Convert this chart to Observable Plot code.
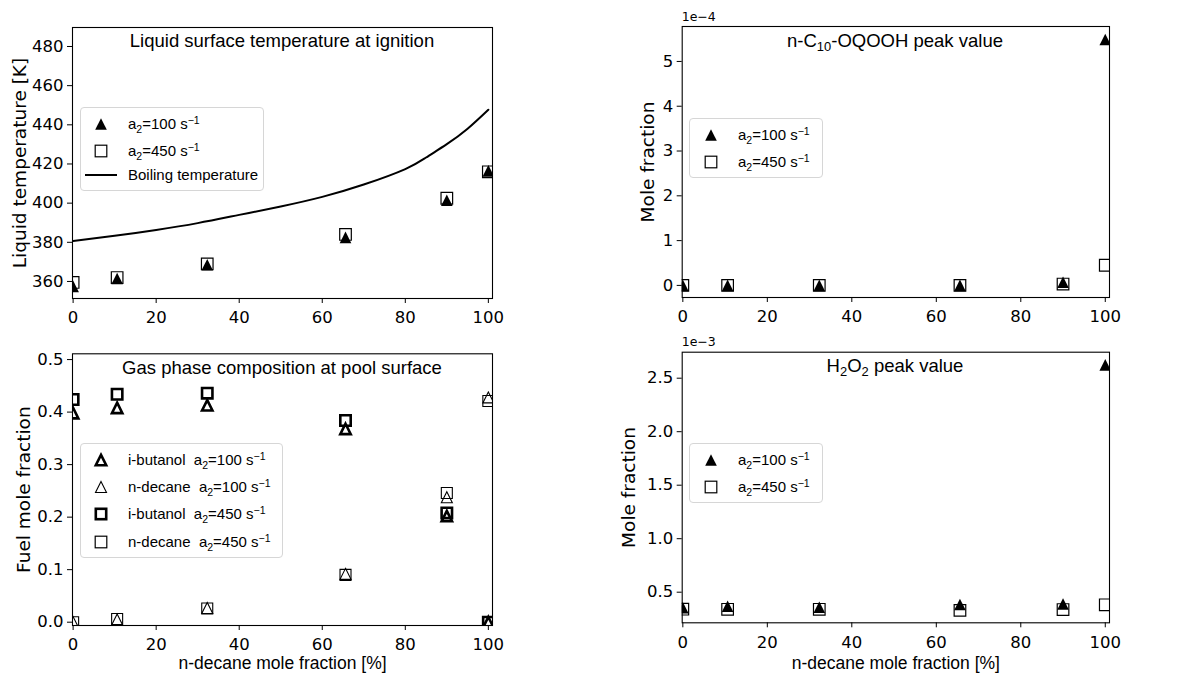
<!DOCTYPE html>
<html><head><meta charset="utf-8">
<script src="https://cdn.jsdelivr.net/npm/d3@7"></script>
<script src="https://cdn.jsdelivr.net/npm/@observablehq/plot@0.6"></script>
<style>
body{margin:0;background:#fff;}
#fig{position:relative;width:1186px;height:676px;overflow:hidden;background:#fff;}
.panel{position:absolute;}
.ttl{position:absolute;font-family:"Liberation Sans",Arial,sans-serif;font-size:18.5px;line-height:1.15;color:#000;transform:translate(-50%,-50%);white-space:nowrap;}
.off{position:absolute;font-family:"DejaVu Sans",sans-serif;font-size:12.5px;line-height:1;color:#000;}
.leg{position:absolute;border:1px solid #d6d6d6;border-radius:4px;background:rgba(255,255,255,0.8);box-sizing:border-box;}
.lrow{position:absolute;font-family:"Liberation Sans",Arial,sans-serif;font-size:15px;white-space:pre;transform:translateY(-50%);line-height:1.15;color:#000;}
.lsym{position:absolute;overflow:visible;}
sub,sup{font-size:70%;line-height:0;}
sub{vertical-align:-0.3em;}
sup{vertical-align:0.55em;}
</style></head>
<body>
<div id="fig"></div>
<script>
// ---------- data ----------
const xMix = [0, 10.6, 32.3, 65.6, 90, 100];            // n-decane mole fraction [%]
const xTicks = [0, 20, 40, 60, 80, 100];

// Liquid surface temperature at ignition [K]
const tLiq100 = [357.5, 361.5, 368.5, 382.5, 401.5, 416.5];
const tLiq450 = [359.5, 362, 369, 384, 402.5, 416];
const xBoil = [0, 10, 20, 30, 40, 50, 60, 70, 80, 85, 90, 95, 100];
const tBoil = [380.7, 383.3, 386.3, 389.8, 394, 398.3, 403.2, 409.5, 417.4, 423.3, 430.1, 438, 447.7];
const yTicksT = [360, 380, 400, 420, 440, 460, 480];

// Gas phase composition at pool surface
const ibut100 = [0.398, 0.408, 0.413, 0.368, 0.202, 0];
const ndec100 = [0, 0.005, 0.027, 0.092, 0.238, 0.428];
const ibut450 = [0.424, 0.434, 0.436, 0.384, 0.208, 0];
const ndec450 = [0, 0.006, 0.026, 0.090, 0.246, 0.421];
const yTicksG = [0, 0.1, 0.2, 0.3, 0.4, 0.5];

// n-C10-OQOOH peak value (x 1e-4)
const oqooh100 = [0, 0, 0, 0, 0.07, 5.49];
const oqooh450 = [0, 0, 0, 0, 0.03, 0.45];
const yTicksO = [0, 1, 2, 3, 4, 5];

// H2O2 peak value (x 1e-3)
const h2o2_100 = [0.354, 0.369, 0.36, 0.385, 0.39, 2.625];
const h2o2_450 = [0.341, 0.34, 0.34, 0.33, 0.338, 0.382];
const yTicksH = [0.5, 1.0, 1.5, 2.0, 2.5];

const titles = ["Liquid surface temperature at ignition", "Gas phase composition at pool surface",
  "n-C<sub>10</sub>-OQOOH peak value", "H<sub>2</sub>O<sub>2</sub> peak value"];
const yLabels = ["Liquid temperature [K]", "Fuel mole fraction", "Mole fraction", "Mole fraction"];
const xLabel = "n-decane mole fraction [%]";
const offsets = ["1e\u22124", "1e\u22123"];
const leg100 = "a<sub>2</sub>=100 s<sup>\u22121</sup>";
const leg450 = "a<sub>2</sub>=450 s<sup>\u22121</sup>";
const legBoil = "Boiling temperature";
const legGas = ["i-butanol  " + leg100, "n-decane  " + leg100, "i-butanol  " + leg450, "n-decane  " + leg450];

// ---------- helpers ----------
const tri = {draw(ctx, size){const r = Math.sqrt(size/Math.PI); ctx.moveTo(0,-r); ctx.lineTo(r,r); ctx.lineTo(-r,r); ctx.closePath();}};
const sq = {draw(ctx, size){const r = Math.sqrt(size/Math.PI); ctx.rect(-r,-r,2*r,2*r);}};
const R = 5.8;
const TICKFS = 16.5;
const rows = (ys) => xMix.map((x,i)=>({x, y: ys[i]}));
const fig = document.getElementById("fig");
const FONT = "DejaVu Sans";
const LFONT = "Liberation Sans";

function panel(o){
  const marks = [
    Plot.frame({stroke:"#000", strokeWidth:1.1}),
    Plot.axisX({ticks: xTicks, tickSize:5, tickPadding:o.xpad, label:null}),
    Plot.axisY({ticks: o.yTicks, tickSize:5, tickPadding:4, tickFormat:o.yFmt, label:null}),
    Plot.text([o.yLabel], {frameAnchor:"left", text:d=>d, rotate:-90, dx:-o.yOff, lineAnchor:"top", textAnchor:"middle", fontSize:18.5, fontFamily:FONT}),
    ...o.marks
  ];
  if (o.xLabel) marks.push(Plot.text([o.xLabel], {frameAnchor:"bottom", text:d=>d, dy:o.xOff, lineAnchor:"top", fontSize:17.5, fontFamily:LFONT}));
  const chart = Plot.plot({
    width:o.w, height:o.h, marginTop:o.mt, marginRight:o.mr, marginBottom:o.mb, marginLeft:o.ml,
    style:{fontFamily:FONT, fontSize:TICKFS+"px", color:"#000", background:"transparent", overflow:"visible"},
    x:{domain:[-0.15, 101]},
    y:{domain:o.yDomain},
    marks
  });
  const d = document.createElement("div");
  d.className = "panel"; d.style.left = o.left+"px"; d.style.top = o.top+"px";
  d.appendChild(chart); fig.appendChild(d);
}

function symSvg(kind){
  const r = R;
  let inner = "";
  if (kind==="triF") inner = `<path d="M0,${-r}L${r},${r}L${-r},${r}Z" fill="#000"/>`;
  if (kind==="triT") inner = `<path d="M0,${-r+0.6}L${r-0.6},${r-0.6}L${-r+0.6},${r-0.6}Z" fill="none" stroke="#000" stroke-width="2.6"/>`;
  if (kind==="tri") inner = `<path d="M0,${-r+0.3}L${r-0.3},${r-0.3}L${-r+0.3},${r-0.3}Z" fill="none" stroke="#000" stroke-width="1.1"/>`;
  if (kind==="sqT") inner = `<rect x="${-r+0.6}" y="${-r+0.6}" width="${2*r-1.2}" height="${2*r-1.2}" fill="none" stroke="#000" stroke-width="2.6"/>`;
  if (kind==="sq") inner = `<rect x="${-r}" y="${-r}" width="${2*r}" height="${2*r}" fill="none" stroke="#000" stroke-width="1.2"/>`;
  if (kind==="line") inner = `<line x1="-16" x2="16" y1="0" y2="0" stroke="#000" stroke-width="2"/>`;
  return `<svg width="2" height="2" viewBox="-1 -1 2 2" class="lsym" style="overflow:visible">${inner}</svg>`;
}

function legend(box, items){
  const b = document.createElement("div");
  b.className = "leg";
  Object.assign(b.style, {left:box.x+"px", top:box.y+"px", width:box.w+"px", height:box.h+"px"});
  fig.appendChild(b);
  items.forEach(it=>{
    const s = document.createElement("div");
    s.style.position = "absolute"; s.style.left = (it.mx-1)+"px"; s.style.top = (it.y-1)+"px";
    s.innerHTML = symSvg(it.sym);
    fig.appendChild(s);
    const t = document.createElement("div");
    t.className = "lrow"; t.style.left = it.tx+"px"; t.style.top = it.y+"px";
    t.innerHTML = it.html;
    fig.appendChild(t);
  });
}

function addText(cls, x, y, html){
  const t = document.createElement("div");
  t.className = cls; t.style.left = x+"px"; t.style.top = y+"px"; t.innerHTML = html;
  fig.appendChild(t);
}

// ---------- panels ----------
panel({left:0, top:0, w:593, h:338, mt:27, mr:101, mb:40, ml:72, xpad:7.5,
  yDomain:[351.3, 489.7], yTicks:yTicksT, yFmt:d=>d, yLabel:yLabels[0], yOff:60,
  marks:[
    Plot.line(xBoil.map((x,i)=>({x, y:tBoil[i]})), {x:"x", y:"y", stroke:"#000", strokeWidth:2, curve:"natural", clip:true}),
    Plot.dot(rows(tLiq450), {x:"x", y:"y", r:R, symbol:sq, fill:"none", stroke:"#000", strokeWidth:1.2, clip:true}),
    Plot.dot(rows(tLiq100), {x:"x", y:"y", r:R, symbol:tri, fill:"#000", stroke:"none", clip:true})
  ]});

panel({left:0, top:338, w:593, h:338, mt:15.3, mr:101, mb:51, ml:72, xpad:8,
  yDomain:[-0.0063, 0.511], yTicks:yTicksG, yFmt:d3.format(".1f"), yLabel:yLabels[1], yOff:56,
  xLabel:xLabel, xOff:31,
  marks:[
    Plot.dot(rows(ibut100), {x:"x", y:"y", r:R-0.6, symbol:tri, fill:"none", stroke:"#000", strokeWidth:2.6, clip:true}),
    Plot.dot(rows(ndec100), {x:"x", y:"y", r:R-0.3, symbol:tri, fill:"none", stroke:"#000", strokeWidth:1.1, clip:true}),
    Plot.dot(rows(ibut450), {x:"x", y:"y", r:R-0.6, symbol:sq, fill:"none", stroke:"#000", strokeWidth:2.6, clip:true}),
    Plot.dot(rows(ndec450), {x:"x", y:"y", r:R-0.3, symbol:sq, fill:"none", stroke:"#000", strokeWidth:1.1, clip:true})
  ]});

panel({left:593, top:0, w:593, h:338, mt:26, mr:77, mb:41, ml:88.7, xpad:7.5,
  yDomain:[-0.27, 5.78], yTicks:yTicksO, yFmt:d=>d, yLabel:yLabels[2], yOff:41.7,
  marks:[
    Plot.dot(rows(oqooh450), {x:"x", y:"y", r:R, symbol:sq, fill:"none", stroke:"#000", strokeWidth:1.2, clip:true}),
    Plot.dot(rows(oqooh100), {x:"x", y:"y", r:R, symbol:tri, fill:"#000", stroke:"none", clip:true})
  ]});

panel({left:593, top:338, w:593, h:338, mt:13.7, mr:77, mb:53.7, ml:88.7, xpad:8,
  yDomain:[0.214, 2.743], yTicks:yTicksH, yFmt:d3.format(".1f"), yLabel:yLabels[3], yOff:60,
  xLabel:xLabel, xOff:33.7,
  marks:[
    Plot.dot(rows(h2o2_450), {x:"x", y:"y", r:R, symbol:sq, fill:"none", stroke:"#000", strokeWidth:1.2, clip:true}),
    Plot.dot(rows(h2o2_100), {x:"x", y:"y", r:R, symbol:tri, fill:"#000", stroke:"none", clip:true})
  ]});

// ---------- titles, offsets ----------
addText("ttl", 282, 40.5, titles[0]);
addText("ttl", 282, 367.5, titles[1]);
addText("ttl", 895, 40.5, titles[2]);
addText("ttl", 895, 365.7, titles[3]);
addText("off", 681.7, 11, offsets[0]);
addText("off", 681.7, 336, offsets[1]);

// ---------- legends ----------
legend({x:80, y:107, w:184, h:84}, [
  {y:124, mx:100.7, tx:128, sym:"triF", html:leg100},
  {y:150.7, mx:100.7, tx:128, sym:"sq", html:leg450},
  {y:175, mx:100.7, tx:128, sym:"line", html:legBoil}
]);
legend({x:80, y:443, w:203, h:115}, [
  {y:460, mx:100.5, tx:128, sym:"triT", html:legGas[0]},
  {y:486.7, mx:100.5, tx:128, sym:"tri", html:legGas[1]},
  {y:514, mx:100.5, tx:128, sym:"sqT", html:legGas[2]},
  {y:541.7, mx:100.5, tx:128, sym:"sq", html:legGas[3]}
]);
legend({x:689, y:118, w:134, h:60}, [
  {y:135, mx:711, tx:738, sym:"triF", html:leg100},
  {y:162, mx:711, tx:738, sym:"sq", html:leg450}
]);
legend({x:689, y:443.3, w:134, h:60}, [
  {y:460, mx:711, tx:738, sym:"triF", html:leg100},
  {y:486.7, mx:711, tx:738, sym:"sq", html:leg450}
]);
</script>
</body></html>
